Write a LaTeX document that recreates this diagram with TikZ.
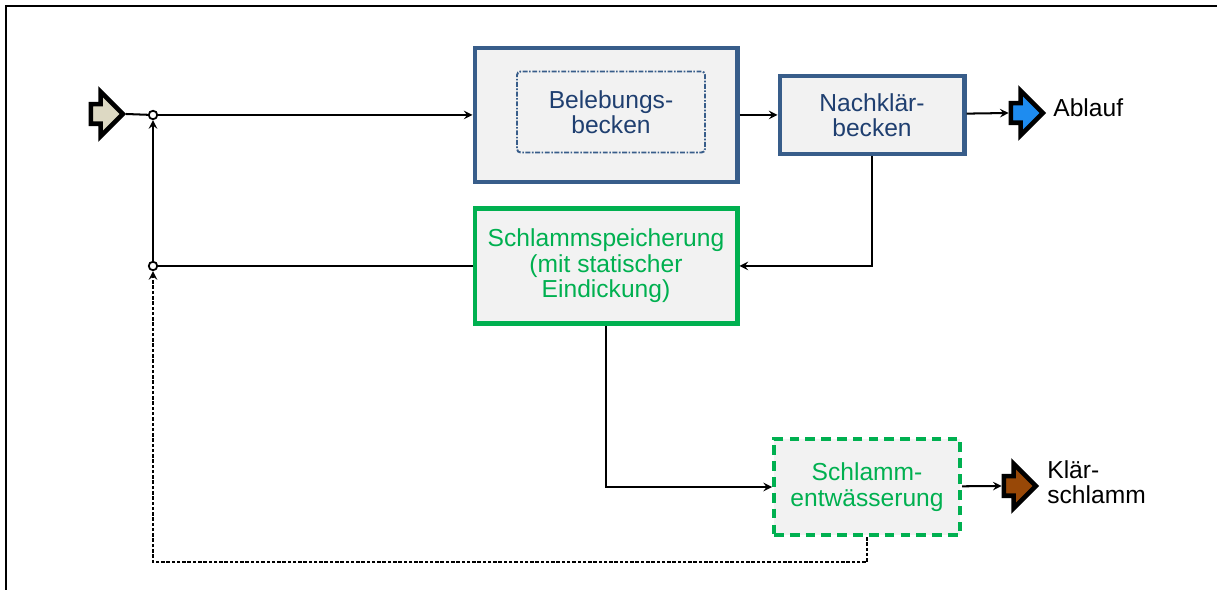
\documentclass[tikz,border=0pt]{standalone}
\usepackage{fontspec}
\setmainfont{Liberation Sans}
\usetikzlibrary{shapes.arrows}
\definecolor{boxfill}{HTML}{F2F2F2}
\definecolor{boxblue}{HTML}{385D8A}
\definecolor{textblue}{HTML}{1F3F70}
\definecolor{sludgegreen}{HTML}{00B050}
\definecolor{inbeige}{HTML}{DDD9C3}
\definecolor{outblue}{HTML}{1E8CF0}
\definecolor{sludgebrown}{HTML}{984807}
\begin{document}
\begin{tikzpicture}[x=0.02cm,y=-0.02cm,
  every node/.style={font=\fontsize{14}{14.5}\selectfont},
  bluebox/.style={rectangle,draw=boxblue,line width=2.3pt,fill=boxfill,text=textblue,align=center},
  greenbox/.style={rectangle,draw=sludgegreen,line width=2.3pt,fill=boxfill,text=sludgegreen,align=center},
  fatarrow/.style={single arrow,draw=black,line width=2.6pt,inner xsep=0pt,inner ysep=0.15cm,minimum height=0.64cm,minimum width=0.8cm,single arrow head extend=0.25cm},
  junction/.style={circle,draw,fill=white,line width=1pt,inner sep=0pt,minimum size=0.17cm},
  conn/.style={line width=1.15pt},
  sludgeline/.style={line width=1.15pt,dash pattern=on 2pt off 1pt}]
\useasboundingbox (0,0) rectangle (1217,590);
\draw[line width=1.2pt] (6,590) -- (6,6) -- (1217,6);
%
\node at (102,114) [fatarrow,fill=inbeige] (zulauf) {};
\node at (153,115) [junction] (j1) {};
\node at (606,115) [bluebox,minimum width=5.26cm,minimum height=2.68cm] (bb) {};
\node at (611,112) [rectangle,draw=boxblue,line width=1.1pt,dash pattern=on 2.8pt off 0.9pt on 0.9pt off 0.9pt,rounded corners=2pt,minimum width=3.76cm,minimum height=1.62cm,text=textblue,align=center] (bbin) {Belebungs-\\becken};
\node at (872,115) [bluebox,minimum width=3.7cm,minimum height=1.56cm] (nkb) {Nachklär-\\becken};
\node at (1022,113) [fatarrow,fill=outblue] (ablauf) {};
\node at (1053,108) [anchor=west,inner sep=0pt] (ablauftxt) {Ablauf};
%
\node at (153,266) [junction] (j2) {};
\node at (606,266) [greenbox,minimum width=5.26cm,minimum height=2.3cm] (sps) {Schlammspeicherung\\(mit statischer\\Eindickung)};
%
\node at (867,487) [greenbox,dash pattern=on 5.5pt off 3.5pt,minimum width=3.72cm,minimum height=1.92cm] (entw) {Schlamm-\\entwässerung};
\node at (1015,486) [fatarrow,fill=sludgebrown] (ks) {};
\node at (1047,482) [anchor=west,align=left,inner sep=0pt] (kstxt) {Klär-\\schlamm};
\coordinate (dbot) at (153,562);
%
\draw[conn] (zulauf.tip) -- (j1);
\draw[conn,-stealth] (j1) -- (bb);
\draw[conn,-stealth] (bb) -- (nkb);
\draw[conn,-stealth] (nkb) -- (ablauf.tail);
%
\draw[conn,-stealth] (nkb.south) |- (sps.east);
\draw[conn] (sps.west) -- (j2);
\draw[conn,-stealth] (j2) -- (j1);
%
\draw[conn,-stealth] (sps.south) |- (entw.west);
\draw[conn,-stealth] (entw) -- (ks.tail);
%
\draw[sludgeline,-stealth] (entw.south) |- (dbot) -- (j2);
\end{tikzpicture}
\end{document}
